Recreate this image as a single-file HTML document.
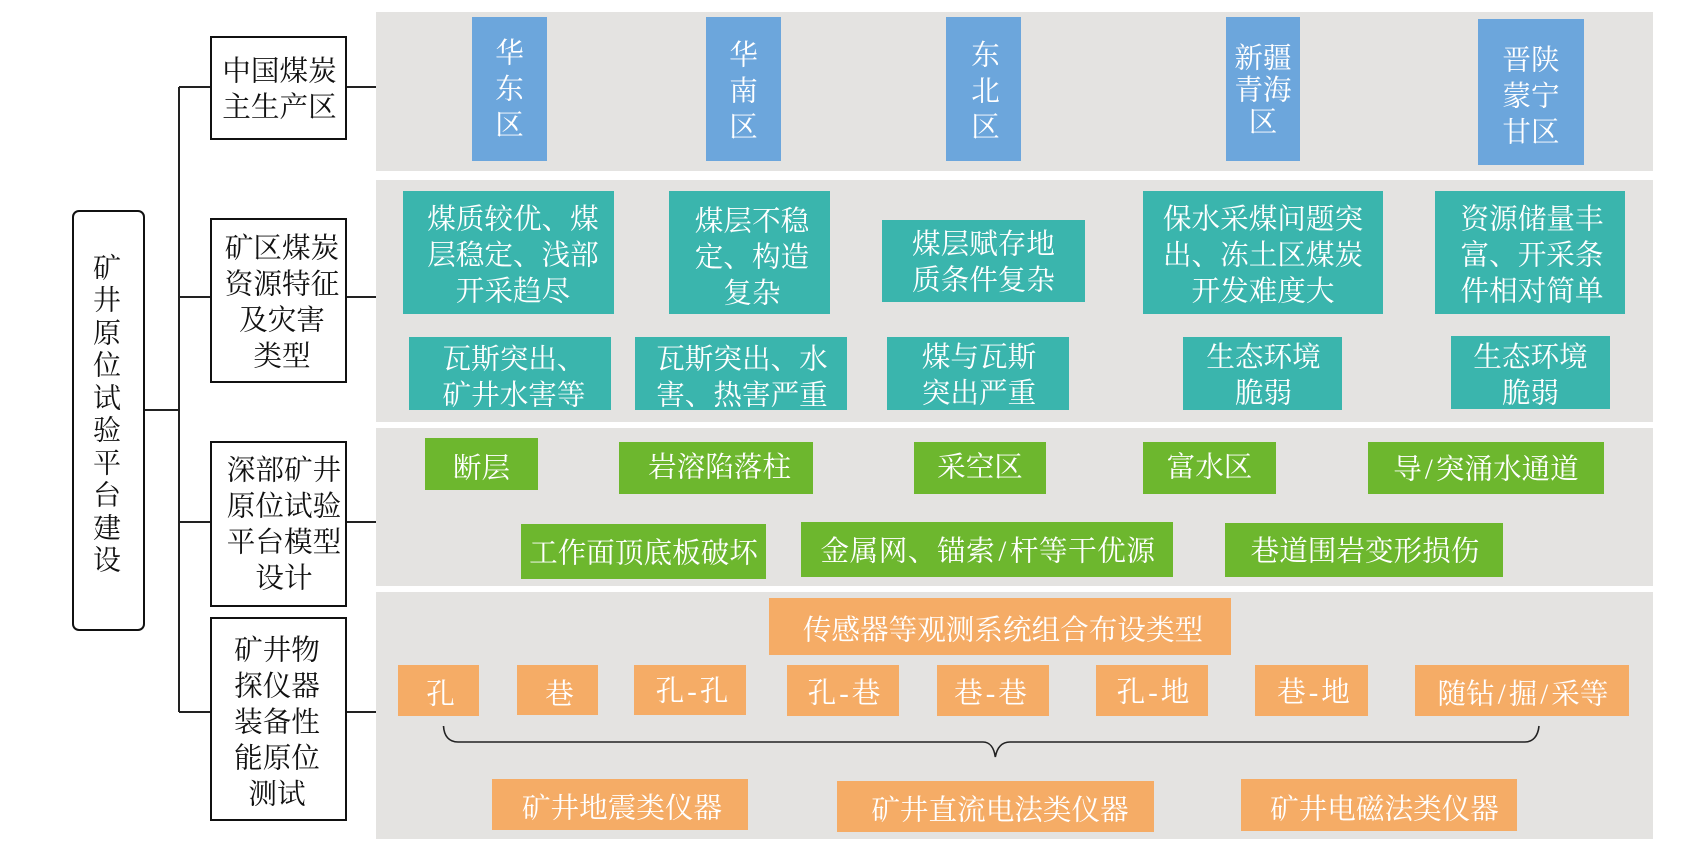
<!DOCTYPE html>
<html lang="zh">
<head>
<meta charset="utf-8">
<title>矿井原位试验平台建设</title>
<style>
html,body{margin:0;padding:0;background:#fff}
#c{position:relative;width:1700px;height:866px;overflow:hidden;background:#fff;font-family:"Liberation Serif","Noto Serif CJK SC",serif;font-size:28.6px;line-height:36px;color:#fff}
.p{position:absolute;left:376px;width:1277px;background:#e4e3e1}
.b{position:absolute;display:flex;align-items:center;justify-content:center;text-align:center;box-sizing:border-box;white-space:nowrap}
.b span{position:relative;display:block;transform:translateY(2.5px)}
.b i{font-style:normal;margin:0 3px}
.k{background:#fff;border:2.5px solid #111;color:#111;left:210px;width:137px}
.u{background:#6ca6dc}.t{background:#3ab5ad}.g{background:#6db72e}.o{background:#f5ac66}
svg{position:absolute;left:0;top:0}
</style>
</head>
<body>
<div id="c">
<div class="p" style="top:12px;height:159px"></div>
<div class="p" style="top:180px;height:242px"></div>
<div class="p" style="top:428px;height:158px"></div>
<div class="p" style="top:592px;height:247px"></div>

<svg width="1700" height="866" viewBox="0 0 1700 866" fill="none" stroke="#222" stroke-width="2">
<path d="M144 410H179M179 87V712M179 87H210M179 297H210M179 522H210M179 712H210M347 87H376M347 297H376M347 522H376M347 712H376"/>
<path stroke-width="1.6" d="M443.5 726C444 736 449 742 458 742H983C990 742 994 748 995.3 757C997 748 1001 742 1010 742H1525C1533 742 1538 736 1539 726"/>
</svg>

<div class="b" style="left:71.5px;top:210px;width:73px;height:421px;background:#fff;border:2.5px solid #111;border-radius:7px;color:#111;line-height:32.5px;font-size:28px"><span style="left:-1px;top:-7.5px">矿<br>井<br>原<br>位<br>试<br>验<br>平<br>台<br>建<br>设</span></div>

<div class="b k" style="top:36px;height:104px"><span style="left:1px">中国煤炭<br>主生产区</span></div>
<div class="b k" style="top:218px;height:165px"><span style="left:3.5px">矿区煤炭<br>资源特征<br>及灾害<br>类型</span></div>
<div class="b k" style="top:441px;height:166px"><span style="left:5.5px;top:-1.5px">深部矿井<br>原位试验<br>平台模型<br>设计</span></div>
<div class="b k" style="top:617px;height:204px"><span style="left:-1.5px;top:1.5px">矿井物<br>探仪器<br>装备性<br>能原位<br>测试</span></div>

<div class="b u" style="left:472px;top:17px;width:75px;height:144px"><span style="top:-1px">华<br>东<br>区</span></div>
<div class="b u" style="left:706px;top:17px;width:75px;height:144px"><span style="top:1px">华<br>南<br>区</span></div>
<div class="b u" style="left:946px;top:17px;width:75px;height:144px"><span style="left:2px;top:1px">东<br>北<br>区</span></div>
<div class="b u" style="left:1226px;top:17px;width:74px;height:144px;line-height:32px"><span>新疆<br>青海<br>区</span></div>
<div class="b u" style="left:1478px;top:19px;width:106px;height:146px"><span style="top:3px">晋陕<br>蒙宁<br>甘区</span></div>

<div class="b t" style="left:403px;top:191px;width:211px;height:123px"><span style="left:4.5px;top:1.5px">煤质较优、煤<br>层稳定、浅部<br>开采趋尽</span></div>
<div class="b t" style="left:669px;top:191px;width:161px;height:123px"><span style="left:2.5px;top:3.5px">煤层不稳<br>定、构造<br>复杂</span></div>
<div class="b t" style="left:882px;top:220px;width:203px;height:82px"><span>煤层赋存地<br>质条件复杂</span></div>
<div class="b t" style="left:1143px;top:191px;width:240px;height:123px"><span style="top:1.5px">保水采煤问题突<br>出、冻土区煤炭<br>开发难度大</span></div>
<div class="b t" style="left:1435px;top:191px;width:190px;height:123px"><span style="left:2px;top:1px">资源储量丰<br>富、开采条<br>件相对简单</span></div>

<div class="b t" style="left:409px;top:337px;width:202px;height:73px"><span style="left:4px;top:2.5px">瓦斯突出、<br>矿井水害等</span></div>
<div class="b t" style="left:635px;top:337px;width:212px;height:73px"><span style="left:1px;top:2.5px">瓦斯突出、水<br>害、热害严重</span></div>
<div class="b t" style="left:887px;top:337px;width:182px;height:73px"><span style="left:1px;top:.5px">煤与瓦斯<br>突出严重</span></div>
<div class="b t" style="left:1183px;top:337px;width:159px;height:73px"><span style="left:1px">生态环境<br>脆弱</span></div>
<div class="b t" style="left:1451px;top:336px;width:159px;height:73px"><span style="top:1px">生态环境<br>脆弱</span></div>

<div class="b g" style="left:425px;top:438px;width:113px;height:52px"><span style="top:3px">断层</span></div>
<div class="b g" style="left:619px;top:442px;width:194px;height:52px"><span style="left:3.5px;top:-2px">岩溶陷落柱</span></div>
<div class="b g" style="left:914px;top:442px;width:132px;height:52px"><span style="top:-2px">采空区</span></div>
<div class="b g" style="left:1143px;top:442px;width:133px;height:52px"><span style="top:-2px">富水区</span></div>
<div class="b g" style="left:1368px;top:442px;width:236px;height:52px"><span style="left:0">导<i>/</i>突涌水通道</span></div>
<div class="b g" style="left:521px;top:524px;width:245px;height:55px"><span>工作面顶底板破坏</span></div>
<div class="b g" style="left:801px;top:522px;width:372px;height:55px"><span style="left:1px;letter-spacing:.55px">金属网、锚索<i>/</i>杆等干优源</span></div>
<div class="b g" style="left:1225px;top:523px;width:278px;height:54px"><span style="left:1px">巷道围岩变形损伤</span></div>

<div class="b o" style="left:769px;top:598px;width:462px;height:57px"><span style="left:3px;top:2px">传感器等观测系统组合布设类型</span></div>
<div class="b o" style="left:398px;top:665px;width:81px;height:51px"><span style="left:2px;top:2px">孔</span></div>
<div class="b o" style="left:517px;top:665px;width:81px;height:50px"><span style="left:2px;top:3px">巷</span></div>
<div class="b o" style="left:634px;top:665px;width:112px;height:50px"><span style="left:2px">孔<i>-</i>孔</span></div>
<div class="b o" style="left:787px;top:665px;width:112px;height:51px"><span style="left:1px;top:1.5px">孔<i>-</i>巷</span></div>
<div class="b o" style="left:937px;top:665px;width:112px;height:51px"><span style="left:-2.5px;top:1.5px">巷<i>-</i>巷</span></div>
<div class="b o" style="left:1096px;top:665px;width:112px;height:51px"><span style="left:1px;top:.5px">孔<i>-</i>地</span></div>
<div class="b o" style="left:1255px;top:665px;width:113px;height:51px"><span style="left:2px;top:.5px">巷<i>-</i>地</span></div>
<div class="b o" style="left:1415px;top:665px;width:214px;height:51px"><span style="left:1px;top:2px">随钻<i>/</i>掘<i>/</i>采等</span></div>

<div class="b o" style="left:492px;top:779px;width:256px;height:51px"><span style="left:2px;top:2px">矿井地震类仪器</span></div>
<div class="b o" style="left:837px;top:781px;width:317px;height:51px"><span style="left:4.5px;top:2.5px">矿井直流电法类仪器</span></div>
<div class="b o" style="left:1241px;top:779px;width:276px;height:52px"><span style="left:5.5px;top:3px">矿井电磁法类仪器</span></div>
</div>
</body>
</html>
